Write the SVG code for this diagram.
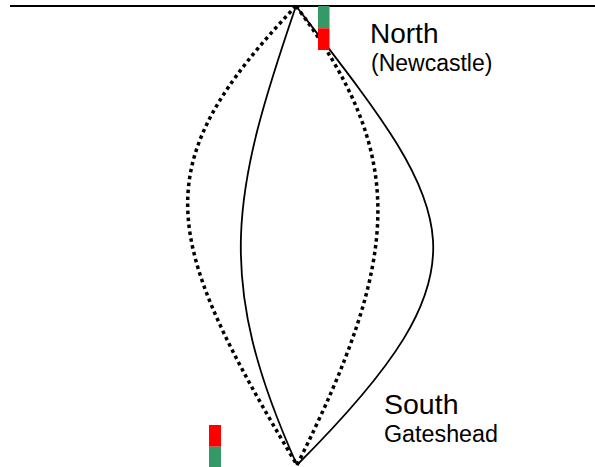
<svg xmlns="http://www.w3.org/2000/svg" width="595" height="467" viewBox="0 0 595 467">
  <style>
    .solid { fill: none; stroke: #000; stroke-width: 1.8; }
    .dotted { fill: none; stroke: #000; stroke-width: 3.5; stroke-dasharray: 3.5 3.5; }
    .lbl { font-family: "Liberation Sans", Arial, sans-serif; fill: #000; }
    .green { fill: #339966; }
    .red { fill: #FF0000; }
  </style>
  <rect width="595" height="467" fill="#fff"/>
  <g id="connectors">
    <line x1="10" y1="6" x2="595" y2="6" stroke="#000" stroke-width="2"/>
    <path class="dotted" d="M296,6 C144,166 159,235 297,465"/>
    <path class="solid" d="M296,6 C232,193 213,278 297,465"/>
    <path class="dotted" d="M296,6 C408,156 402,255 297,465"/>
    <path class="solid" d="M296,6 C454,211 502,260 297,465"/>
  </g>
  <g id="north">
    <rect class="green" x="318" y="6" width="11.5" height="22.3"/>
    <rect class="red" x="318" y="28.3" width="11.5" height="21.7"/>
    <text class="lbl" x="370" y="43" font-size="28">North</text>
    <text class="lbl" x="371" y="71" font-size="23">(Newcastle)</text>
  </g>
  <g id="south">
    <rect class="red" x="209" y="425" width="12" height="21.7"/>
    <rect class="green" x="209" y="446.7" width="12" height="20.3"/>
    <text class="lbl" x="384" y="414" font-size="28.5">South</text>
    <text class="lbl" x="384" y="441.5" font-size="23.3">Gateshead</text>
  </g>
</svg>
